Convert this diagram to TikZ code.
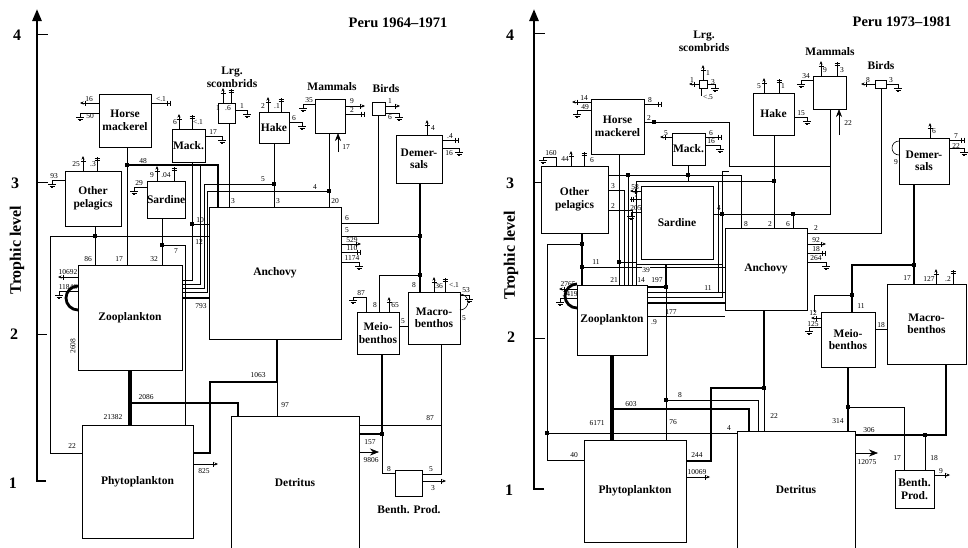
\documentclass[tikz,border=0pt]{standalone}
\usepackage{fontspec}
\setmainfont{Liberation Serif}
\usetikzlibrary{arrows.meta}
\tikzset{
 box/.style={draw,line width=0.6pt,fill=white,inner sep=0pt,outer sep=0pt,anchor=north west,align=center,font=\bfseries\fontsize{11.5}{12.5}\selectfont},
 num/.style={font=\fontsize{7.5}{8}\selectfont,inner sep=0.3pt},
 nm/.style={font=\bfseries\fontsize{11.5}{12.5}\selectfont,align=center,inner sep=0pt},
 fl/.style={line width=0.6pt},
 fm/.style={line width=1.3pt},
 fk/.style={line width=2.6pt},
 fx/.style={line width=3.8pt},
 ax/.style={font=\bfseries\fontsize{16}{17}\selectfont},
 ttl/.style={font=\bfseries\fontsize{14.5}{16}\selectfont},
}
\newcommand\Bx[6]{\node[box,minimum width={#4-#2},minimum height={#5-#3}] (#1) at (#2,#3) {#6};}
\newcommand\Dt[2]{\fill (#1-2.3,#2-2.3) rectangle (#1+2.3,#2+2.3);}
\newcommand\Gd[2]{\draw[fl] (#1-4,#2)--(#1+4,#2) (#1-2.5,#2+1.8)--(#1+2.5,#2+1.8) (#1-1,#2+3.6)--(#1+1,#2+3.6);}
\newcommand\UpA[2]{\draw[fl,-{Stealth[length=3.5pt,width=3pt]}] (#1,#2)--(#1,#2-15); \draw[fl] (#1-2.5,#2-10)--(#1+2.5,#2-10);}
\newcommand\UpC[2]{\draw[fl] (#1,#2)--(#1,#2-14); \draw[fl] (#1-2.5,#2-13)--(#1+2.5,#2-13) (#1-2.5,#2-10.5)--(#1+2.5,#2-10.5);}
\newcommand\RtA[3]{\draw[fl,-{Stealth[length=3.5pt,width=3pt]}] (#1,#2)--(#1+#3,#2); \draw[fl] (#1+#3-5,#2-2.5)--(#1+#3-5,#2+2.5);}
\newcommand\RtC[3]{\draw[fl] (#1,#2)--(#1+#3,#2); \draw[fl] (#1+#3-1,#2-2.5)--(#1+#3-1,#2+2.5) (#1+#3-3.5,#2-2.5)--(#1+#3-3.5,#2+2.5);}
\newcommand\RtG[3]{\draw[fl] (#1,#2)--(#1+#3,#2)--(#1+#3,#2+4); \Gd{#1+#3}{#2+4}}
\newcommand\LtA[3]{\draw[fl,-{Stealth[length=3.5pt,width=3pt]}] (#1,#2)--(#1-#3,#2); \draw[fl] (#1-#3+5,#2-2.5)--(#1-#3+5,#2+2.5);}
\newcommand\LtC[3]{\draw[fl] (#1,#2)--(#1-#3,#2); \draw[fl] (#1-#3+1,#2-2.5)--(#1-#3+1,#2+2.5) (#1-#3+3.5,#2-2.5)--(#1-#3+3.5,#2+2.5);}
\newcommand\LtG[3]{\draw[fl] (#1,#2)--(#1-#3,#2)--(#1-#3,#2+4); \Gd{#1-#3}{#2+4}}
\begin{document}
\begin{tikzpicture}[x=1pt,y=-1pt]
\useasboundingbox[fill=white] (0,0) rectangle (968,547);
%================ LEFT PANEL ================
\draw[line width=2.6pt,-{Triangle[length=12pt,width=9pt]}] (46,481)--(37,481)--(37,9);
\draw[fl] (37,34)--(48,34) (37,182)--(48,182) (37,334)--(47,334);
\node[ax] at (17,35) {4};
\node[ax] at (15,183) {3};
\node[ax] at (14,334) {2};
\node[ax] at (13,483) {1};
\node[ax,rotate=90] at (17,250) {Trophic level};
\node[ttl] at (398,23) {Peru 1964–1971};
% connectors (drawn first, boxes on top)
\draw[fx] (130,370)--(130,425);
\draw[fk] (130,403)--(238,403)--(238,416);
\draw[fk] (193,453)--(210,453)--(210,382)--(277,382)--(277,339);
\draw[fl] (277,382)--(277,416);
\draw[fl] (162,218)--(162,265);
\draw[fl] (162,245)--(185,245)--(185,425);
\draw[fl] (95,226)--(95,265);
\draw[fl] (82,453)--(50,453)--(50,236)--(209,236);
\draw[fl] (127,147)--(127,265);
\draw[fm] (127,165)--(218,165)--(218,207);
\draw[fl] (192,162)--(192,280)--(182,280);
\draw[fl] (192,224)--(209,224);
\draw[fl] (200,165)--(200,284)--(182,284);
\draw[fl] (204,184)--(204,288)--(182,288);
\draw[fl] (207,191)--(207,292)--(182,292);
\draw[fk] (182,298)--(209,298);
\draw[fl] (274,143)--(274,207);
\draw[fl] (274,184)--(204,184);
\draw[fl] (329,133)--(329,207);
\draw[fl] (329,191)--(207,191);
\draw[fl] (229,123)--(229,207);
\draw[fl] (378,115)--(378,223)--(341,223);
\draw[fm] (420,183)--(420,292);
\draw[fl] (420,236)--(341,236);
\draw[fl] (420,275)--(379,275)--(379,312);
\draw[fl] (366,312)--(366,297)--(353,297)--(353,300); \Gd{353}{300}
\draw[fl] (399,326)--(408,326);
\draw[fk] (382,354)--(382,434)--(359,434);
\draw[fl] (382,434)--(382,473)--(395,473);
\draw[fl] (441,344)--(441,474)--(422,474);
\draw[fl] (441,425)--(359,425);
\draw[fl,-{Stealth[length=9pt,width=7pt]}] (359,452)--(379,452);
\Dt{127}{165}\Dt{95}{236}\Dt{162}{245}\Dt{192}{224}\Dt{274}{184}\Dt{329}{191}
\Dt{420}{236}\Dt{420}{275}\Dt{382}{434}
% boxes
\Bx{hmL}{99}{94}{151}{147}{Horse\\mackerel}
\Bx{mkL}{172}{129}{205}{162}{Mack.}
\Bx{lsL}{218}{103}{235}{123}{}
\Bx{hkL}{259}{112}{289}{143}{Hake}
\Bx{mmL}{315}{99}{345}{133}{}
\Bx{bdL}{372}{102}{385}{115}{}
\Bx{dmL}{396}{135}{442}{183}{Demer-\\sals}
\Bx{opL}{65}{171}{121}{226}{Other\\pelagics}
\Bx{sdL}{147}{181}{184}{218}{Sardine}
\Bx{zpL}{78}{265}{182}{370}{Zooplankton}
\Bx{anL}{209}{207}{341}{339}{Anchovy}
\Bx{meL}{357}{312}{399}{354}{Meio-\\benthos}
\Bx{maL}{408}{292}{460}{344}{Macro-\\benthos}
\Bx{phL}{82}{425}{193}{538}{Phytoplankton}
\Bx{dtL}{231}{416}{359}{549}{Detritus}
\Bx{bpL}{395}{470}{422}{496}{}
\node[nm] at (232,72) {Lrg.};
\node[nm] at (232,84) {scombrids};
\node[nm] at (332,87) {Mammals};
\node[nm] at (386,89) {Birds};
\node[nm] at (409,510) {Benth. Prod.};
% loops
\draw[line width=2.8pt] (78,310) arc (90:270:12);
\draw[fl] (460,310) arc (90:-90:8);
% small exports
\LtA{99}{103}{19} \node[num] at (89,99) {16};
\LtG{99}{113}{19} \node[num] at (90,116) {50};
\RtC{151}{103}{20} \node[num] at (161,99) {<.1};
\UpA{179}{129} \node[num] at (175,122) {6};
\UpC{192}{129} \node[num] at (198,122) {<.1};
\RtG{205}{136}{17} \node[num] at (213,132) {17};
\UpA{223}{103} \node[num] at (218,108) {1};
\UpC{231}{103} \node[num] at (228,108) {.6};
\RtG{235}{110}{12} \node[num] at (242,106) {1};
\UpA{268}{112} \node[num] at (263,106) {2};
\UpC{281}{112} \node[num] at (277,106) {.1};
\RtG{289}{122}{13} \node[num] at (294,118) {6};
\LtG{315}{104}{12} \node[num] at (309,100) {35};
\RtA{345}{106}{20} \node[num] at (352,101) {9};
\RtC{345}{114}{20} \node[num] at (352,110) {2};
\draw[fl,-{Stealth[length=8pt,width=6pt]}] (338,152)--(338,133); \node[num] at (346,147) {17};
\RtA{385}{106}{15} \node[num] at (390,101) {1};
\RtG{385}{113}{14} \node[num] at (390,117) {6};
\UpA{427}{135} \node[num] at (433,128) {4};
\RtC{442}{140}{17} \node[num] at (450,136) {.4};
\RtG{442}{148}{17} \node[num] at (449,153) {16};
\UpA{83}{171} \node[num] at (76,164) {25};
\UpC{97}{171} \node[num] at (93,164) {.3};
\LtG{65}{180}{13} \node[num] at (54,176) {93};
\UpA{157}{181} \node[num] at (152,175) {9};
\UpC{174}{181} \node[num] at (166,175) {.04};
\LtG{147}{187}{13} \node[num] at (139,183) {29};
\RtA{341}{244}{20} \node[num] at (352,240) {529};
\RtC{341}{252}{20} \node[num] at (352,248) {110};
\RtG{341}{262}{18} \node[num] at (352,258) {1174};
\LtA{78}{277}{20} \node[num] at (68,272) {10692};
\LtG{78}{291}{19} \node[num] at (68,287) {11846};
\node[num,rotate=90] at (73,346) {2608};
\UpA{389}{312} \node[num] at (395,305) {65};
\UpA{434}{292} \node[num] at (439,286) {36};
\UpC{445}{292} \node[num] at (454,285) {<.1};
\RtG{460}{295}{9} \node[num] at (466,290) {53};
\node[num] at (464,318) {5};
\RtA{193}{464}{25} \node[num] at (204,471) {825};
\RtA{422}{481}{24} \node[num] at (433,488) {3};
% flow labels
\node[num] at (113,417) {21382};
\node[num] at (146,397) {2086};
\node[num] at (258,375) {1063};
\node[num] at (285,405) {97};
\node[num] at (72,446) {22};
\node[num] at (199,242) {12};
\node[num] at (200,220) {10};
\node[num] at (176,251) {7};
\node[num] at (154,259) {32};
\node[num] at (88,259) {86};
\node[num] at (119,259) {17};
\node[num] at (143,161) {48};
\node[num] at (201,306) {793};
\node[num] at (263,179) {5};
\node[num] at (278,201) {3};
\node[num] at (233,201) {3};
\node[num] at (315,187) {4};
\node[num] at (335,201) {20};
\node[num] at (347,218) {6};
\node[num] at (347,230) {5};
\node[num] at (375,305) {8};
\node[num] at (414,285) {8};
\node[num] at (361,293) {87};
\node[num] at (403,321) {5};
\node[num] at (370,442) {157};
\node[num] at (371,460) {9806};
\node[num] at (430,418) {87};
\node[num] at (389,469) {8};
\node[num] at (431,469) {5};
%================ RIGHT PANEL ================
\draw[line width=2.6pt,-{Triangle[length=12pt,width=9pt]}] (544,489)--(534,489)--(534,9);
\draw[fl] (534,33)--(545,33) (534,182)--(545,182) (534,338)--(545,338);
\node[ax] at (510,35) {4};
\node[ax] at (510,183) {3};
\node[ax] at (511,337) {2};
\node[ax] at (509,490) {1};
\node[ax,rotate=90] at (511,255) {Trophic level};
\node[ttl] at (902,22) {Peru 1973–1981};
% connectors
\draw[fx] (612,355)--(612,440);
\draw[fk] (612,409)--(749,409)--(749,431);
\draw[fk] (686,461)--(711,461)--(711,388)--(764,388)--(764,310);
\draw[fl] (764,388)--(764,431);
\draw[fl] (666,287)--(666,440);
\draw[fk] (666,264)--(666,287)--(647,287);
\draw[fl] (666,400)--(758,400)--(758,431);
\draw[fl] (584,460)--(547,460)--(547,244)--(582,244);
\draw[fl] (547,433)--(737,433);
\draw[fk] (582,233)--(582,285);
\draw[fl] (582,267)--(725,267);
\draw[fl] (619,154)--(619,285);
\draw[fl] (619,262)--(636,262);
\draw[fl] (606,175)--(741,175)--(741,228);
\draw[fl] (688,165)--(688,181);
\draw[fl] (628,175)--(628,285);
\draw[fl] (608,190)--(624,190)--(624,285);
\draw[fl] (608,210)--(632,210)--(632,285);
\draw[fl] (636,181)--(718,181)--(718,292);
\draw[fl] (636,181)--(636,285);
\draw[fl] (636,264)--(722,264);
\draw[fl] (647,292)--(725,292);
\draw[fl] (647,297)--(722,297)--(722,171)--(729,171);
\draw[fm] (647,303)--(725,303);
\draw[fl] (647,316)--(725,316);
\draw[fl] (774,135)--(774,181)--(718,181);
\draw[fl] (774,181)--(774,228);
\draw[fl] (830,109)--(830,214)--(793,214)--(793,228);
\draw[fl] (793,214)--(713,214);
\draw[fl] (644,122)--(729,122)--(729,166)--(830,166);
\draw[fl] (881,88)--(881,233)--(807,233);
\draw[fm] (914,184)--(914,284);
\draw[fm] (914,265)--(852,265)--(852,312);
\draw[fl] (852,295)--(814,295)--(814,312);
\draw[fl] (875,329)--(887,329);
\draw[fk] (848,367)--(848,431);
\draw[fl] (848,407)--(904,407)--(904,470);
\draw[fk] (855,435)--(946,435)--(946,364);
\draw[fl] (925,435)--(925,470);
\draw[fl,-{Stealth[length=9pt,width=7pt]}] (855,453)--(878,453);
\draw[fl,-{Stealth[length=8pt,width=6pt]}] (839,135)--(839,109);
\Dt{612}{409}\Dt{764}{388}\Dt{666}{287}\Dt{666}{400}\Dt{547}{433}\Dt{582}{244}
\Dt{582}{267}\Dt{619}{262}\Dt{688}{175}\Dt{774}{181}\Dt{793}{214}\Dt{722}{214}
\Dt{654}{122}\Dt{914}{265}\Dt{852}{295}\Dt{848}{407}\Dt{925}{435}\Dt{628}{175}
% boxes
\Bx{hmR}{591}{99}{644}{154}{Horse\\mackerel}
\Bx{mkR}{672}{133}{705}{165}{Mack.}
\Bx{lsR}{699}{80}{707}{88}{}
\Bx{hkR}{753}{93}{794}{135}{Hake}
\Bx{mmR}{813}{76}{846}{109}{}
\Bx{bdR}{875}{80}{886}{88}{}
\Bx{dmR}{899}{138}{949}{184}{Demer-\\sals}
\Bx{opR}{541}{166}{608}{233}{Other\\pelagics}
\Bx{sdR}{641}{186}{713}{259}{Sardine}
\Bx{zpR}{577}{285}{647}{355}{Zooplankton}
\Bx{anR}{725}{228}{807}{310}{Anchovy}
\Bx{meR}{821}{312}{875}{367}{Meio-\\benthos}
\Bx{maR}{887}{284}{966}{364}{Macro-\\benthos}
\Bx{phR}{584}{440}{686}{542}{Phytoplankton}
\Bx{dtR}{737}{431}{855}{549}{Detritus}
\Bx{bpR}{895}{470}{934}{508}{Benth.\\Prod.}
\node[nm] at (704,36) {Lrg.};
\node[nm] at (704,48) {scombrids};
\node[nm] at (830,52) {Mammals};
\node[nm] at (881,66) {Birds};
% loops
\draw[line width=2.8pt] (577,308) arc (90:270:12);
\draw[fl] (899,155) arc (90:270:7);
\node[num] at (896,162) {9};
% small exports
\LtA{591}{102}{19} \node[num] at (584,98) {14};
\LtG{591}{110}{14} \node[num] at (585,107) {49};
\RtC{644}{104}{18} \node[num] at (650,100) {8};
\LtA{672}{137}{12} \node[num] at (666,133) {5};
\RtC{705}{137}{17} \node[num] at (711,133) {6};
\RtG{705}{145}{15} \node[num] at (711,141) {16};
\UpA{703}{80} \node[num] at (708,73) {1};
\LtA{699}{84}{10} \node[num] at (692,80) {1};
\RtG{707}{84}{8} \node[num] at (713,82) {3};
\draw[fl] (701,88)--(701,96); \node[num] at (708,97) {<.5};
\UpA{764}{93} \node[num] at (759,86) {5};
\UpC{779}{93} \node[num] at (783,86) {1};
\RtG{794}{117}{13} \node[num] at (801,113) {15};
\LtG{813}{80}{12} \node[num] at (806,76) {34};
\UpA{821}{76} \node[num] at (825,70) {9};
\UpC{837}{76} \node[num] at (842,70) {3};
\node[num] at (848,123) {22};
\LtA{875}{84}{14} \node[num] at (868,80) {8};
\RtG{886}{84}{12} \node[num] at (891,80) {3};
\UpA{930}{138} \node[num] at (934,131) {6};
\RtC{949}{140}{16} \node[num] at (956,136) {7};
\RtG{949}{148}{15} \node[num] at (956,146) {22};
\draw[fl] (556,166)--(556,157)--(543,157)--(543,160); \Gd{543}{160} \node[num] at (551,153) {160};
\UpA{571}{166} \node[num] at (565,159) {44};
\UpC{584}{166} \node[num] at (592,160) {6};
\LtA{641}{191}{11} \node[num] at (635,187) {58};
\LtC{641}{199}{11} \node[num] at (636,195) {7};
\LtG{641}{212}{10} \node[num] at (636,208) {205};
\RtA{807}{244}{19} \node[num] at (816,240) {92};
\RtC{807}{253}{19} \node[num] at (816,249) {18};
\RtG{807}{262}{19} \node[num] at (816,258) {264};
\LtA{577}{289}{18} \node[num] at (568,284) {2765};
\LtG{577}{298}{17} \node[num] at (570,294) {3419};
\UpA{936}{284} \node[num] at (929,279) {127};
\UpC{953}{284} \node[num] at (948,279) {.2};
\LtA{821}{318}{10} \node[num] at (813,313) {12};
\LtG{821}{327}{12} \node[num] at (813,324) {125};
\RtA{934}{475}{16} \node[num] at (941,471) {9};
\RtA{686}{477}{24} \node[num] at (697,472) {10069};
% flow labels
\node[num] at (597,423) {6171};
\node[num] at (631,404) {603};
\node[num] at (697,455) {244};
\node[num] at (774,416) {22};
\node[num] at (729,428) {4};
\node[num] at (680,395) {8};
\node[num] at (673,422) {76};
\node[num] at (574,455) {40};
\node[num] at (657,280) {197};
\node[num] at (596,262) {11};
\node[num,fill=white] at (646,270) {39};
\node[num] at (614,280) {21};
\node[num] at (641,280) {14};
\node[num] at (613,186) {3};
\node[num] at (613,206) {2};
\node[num] at (708,288) {11};
\node[num] at (671,312) {177};
\node[num] at (654,322) {.9};
\node[num] at (746,224) {8};
\node[num] at (770,224) {2};
\node[num] at (788,224) {6};
\node[num] at (719,208) {4};
\node[num] at (649,118) {2};
\node[num] at (816,228) {2};
\node[num] at (907,278) {17};
\node[num] at (861,306) {11};
\node[num] at (881,325) {18};
\node[num] at (838,421) {314};
\node[num] at (869,430) {306};
\node[num] at (897,458) {17};
\node[num] at (934,458) {18};
\node[num] at (867,462) {12075};
\end{tikzpicture}
\end{document}
